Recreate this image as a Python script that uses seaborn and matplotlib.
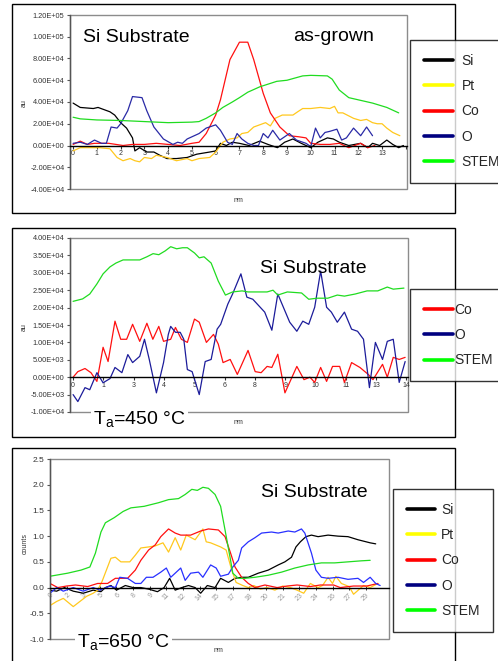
import numpy as np
import pandas as pd
import matplotlib
matplotlib.use('Agg')
import matplotlib.pyplot as plt
from matplotlib.patches import Rectangle
from matplotlib.ticker import FixedLocator, FuncFormatter, MultipleLocator
import seaborn as sns

sns.set_style('white')
plt.rcParams['font.family'] = ['Liberation Sans', 'DejaVu Sans']
plt.rcParams['mathtext.default'] = 'regular'

# ---------------- data: panel 1 (as-grown), values x1e4 ----------------
SCALE1 = 1e4
si1_x = [0, 0.3, 0.85, 1.05, 1.55, 1.75, 2.0, 2.25, 2.5, 2.6, 2.8, 3.1, 3.4, 3.65, 3.95, 4.35, 4.8, 5.2, 5.75, 6.0,
         6.2, 6.45, 6.7, 7.0, 7.4, 7.85, 8.2, 8.6, 8.9, 9.25, 9.6, 10.0, 10.3, 10.7, 10.95, 11.2, 11.6, 12.1, 12.4,
         12.6, 12.9, 13.2, 13.45, 13.7, 13.9]
si1_y = [3.9, 3.5, 3.4, 3.5, 3.1, 2.8, 2.1, 1.6, 0.7, -0.5, -0.2, -0.6, -0.6, -0.9, -1.2, -1.2, -1.1, -0.8, -0.6, -0.5,
         0.2, 0.0, 0.3, 0.2, 0.0, 0.4, 0.1, -0.2, 0.3, 0.6, 0.2, -0.2, 0.3, 0.7, 0.6, 0.3, 0.0, 0.2, -0.2,
         0.2, 0.0, 0.5, 0.1, -0.2, 0.0]
pt1_x = [0, 0.3, 0.7, 1.1, 1.55, 1.85, 2.1, 2.4, 2.6, 2.8, 3.0, 3.3, 3.5, 3.95, 4.35, 4.8, 5.0, 5.3, 5.75, 6.0, 6.3,
         6.6, 6.9, 7.1, 7.35, 7.6, 7.85, 8.1, 8.3, 8.5, 8.8, 9.0, 9.25, 9.45, 9.66, 10.0, 10.4, 10.8, 11.0, 11.15,
         11.35, 11.8, 12.1, 12.35, 12.6, 12.8, 13.0, 13.2, 13.45, 13.75]
pt1_y = [-0.5, -0.2, -0.2, -0.2, -0.3, -1.1, -1.4, -1.2, -1.4, -1.5, -1.1, -1.2, -0.9, -1.1, -1.4, -1.2, -1.4, -1.2,
         -1.1, -0.6, 0.3, 0.6, 0.7, 1.1, 1.2, 1.7, 1.9, 2.1, 1.8, 2.5, 2.8, 2.8, 2.8, 3.1, 3.4, 3.4, 3.5, 3.4, 3.6,
         3.0, 3.0, 2.5, 2.3, 2.4, 2.1, 2.0, 2.0, 1.6, 1.2, 0.9]
co1_x = [0, 0.3, 0.6, 0.9, 1.2, 1.5, 1.8, 2.1, 2.5, 3.0, 3.5, 4.0, 4.5, 5.0, 5.3, 5.6, 6.0, 6.2, 6.6, 7.0, 7.35, 7.6,
         8.0, 8.3, 8.7, 9.1, 9.5, 9.8, 10.0, 10.4, 10.8, 11.2, 11.6, 12.1, 12.4, 12.7]
co1_y = [0.1, 0.4, 0.1, 0.2, 0.2, 0.2, 0.1, 0.0, 0.1, 0.1, 0.2, 0.1, 0.0, 0.2, 0.3, 1.1, 2.8, 4.2, 7.9, 9.5, 9.5, 7.9,
         4.8, 3.0, 1.7, 0.9, 0.8, 0.7, 0.2, 0.1, 0.1, 0.2, -0.2, 0.2, -0.2, 0.0]
o1_x = [0, 0.3, 0.6, 0.9, 1.2, 1.4, 1.6, 1.85, 2.0, 2.3, 2.5, 2.9, 3.1, 3.4, 3.8, 4.2, 4.4, 4.6, 4.8, 5.0, 5.3, 5.6,
        6.0, 6.2, 6.5, 6.7, 6.9, 7.1, 7.35, 7.6, 7.8, 8.0, 8.2, 8.4, 8.7, 9.1, 9.4, 9.8, 10.0, 10.2, 10.4, 10.6,
        10.8, 11.1, 11.3, 11.5, 11.8, 12.1, 12.35, 12.6]
o1_y = [0.2, 0.3, 0.1, 0.5, 0.2, 0.2, 1.7, 1.6, 2.0, 3.2, 4.5, 4.4, 3.2, 1.7, 0.6, 0.1, 0.3, 0.2, 0.6, 0.8, 1.1, 1.6,
        1.9, 1.4, 0.3, 0.1, 1.1, 0.6, 0.2, 0.0, 0.0, 1.1, 0.7, 1.4, 0.5, 1.1, 0.5, 0.2, -0.1, 1.6, 0.7, 1.2,
        1.3, 1.5, 0.5, 0.7, 1.6, 0.9, 1.7, 0.9]
stem1_x = [0, 0.3, 1, 2, 3, 4, 5, 5.3, 5.6, 6.0, 6.3, 6.7, 7.0, 7.35, 7.86, 8.57, 9.0, 9.66, 10.0, 10.7, 10.9, 11.2,
           11.6, 12.0, 12.6, 13.2, 13.7]
stem1_y = [2.6, 2.45, 2.35, 2.3, 2.2, 2.1, 2.15, 2.2, 2.5, 3.0, 3.5, 4.0, 4.4, 4.9, 5.4, 5.9, 6.0, 6.4, 6.45, 6.4,
           6.1, 5.1, 4.4, 4.2, 3.9, 3.5, 3.0]

# ---------------- data: panel 2 (Ta = 450 C), values x1e3 ----------------
SCALE2 = 1e3
co2_x = [0, 0.2, 0.5, 0.75, 1.0, 1.26, 1.47, 1.76, 2.0, 2.25, 2.5, 2.8, 3.1, 3.35, 3.6, 3.8, 4.1, 4.3, 4.55, 4.8,
         5.1, 5.3, 5.6, 5.9, 6.1, 6.3, 6.6, 6.9, 7.35, 7.65, 7.9, 8.15, 8.35, 8.6, 8.9, 9.4, 9.7, 9.95, 10.15, 10.4,
         10.65, 10.9, 11.2, 11.4, 11.7, 12.05, 12.4, 12.6, 13.0, 13.2, 13.45, 13.7, 13.95]
co2_y = [0, 1.6, 2.5, 1.3, -1.2, 8.6, 4.5, 16.1, 10.9, 10.9, 15.2, 10.3, 15.5, 10.9, 14.6, 10.3, 10.9, 14.3, 10.9,
         10.0, 16.7, 15.8, 10.0, 12.3, 9.5, 4.2, 5.1, 0.8, 7.7, 1.6, 1.3, 3.1, 2.8, 6.6, -4.5, 3.1, -0.7, 0, -1.5, 2.8,
         -1.2, 3.1, 3.1, -1.5, 4.2, 2.8, 0.8, -0.7, 3.7, 0, 5.7, 5.1, 5.7]
o2_x = [0, 0.2, 0.5, 0.7, 1.0, 1.26, 1.55, 1.76, 2.05, 2.3, 2.5, 2.8, 3.0, 3.2, 3.5, 3.8, 4.0, 4.1, 4.3, 4.5, 4.65,
        4.8, 5.0, 5.3, 5.55, 5.8, 6.05, 6.2, 6.5, 6.7, 7.05, 7.3, 7.55, 8.05, 8.35, 8.6, 9.1, 9.4, 9.65, 9.9, 10.15,
        10.4, 10.65, 10.85, 11.1, 11.4, 11.7, 11.95, 12.2, 12.45, 12.7, 13.0, 13.2, 13.45, 13.7, 13.95]
o2_y = [-5.0, -7.0, -3.0, -3.6, 1.3, -1.6, -0.4, 2.8, 1.3, 6.5, 4.2, 6.0, 10.9, 5.1, -4.5, 4.2, 12.3, 14.6, 12.9,
        12.9, 10.9, 2.2, 1.6, -5.0, 4.5, 5.1, 13.8, 15.2, 21.0, 23.9, 29.7, 23.0, 22.4, 18.7, 13.5, 23.9, 15.8, 13.2,
        16.1, 15.2, 20.1, 30.5, 20.1, 18.7, 15.8, 18.7, 13.8, 13.2, 10.9, -3.0, 10.0, 5.1, 10.3, 10.9, -1.5, 4.5]
stem2_x = [0, 0.4, 0.7, 1.0, 1.26, 1.55, 1.8, 2.1, 2.5, 2.8, 3.1, 3.36, 3.6, 3.87, 4.1, 4.35, 4.6, 4.8, 5.1, 5.3,
           5.5, 5.8, 6.1, 6.4, 6.7, 7.1, 7.35, 7.7, 8.15, 8.4, 8.6, 9.0, 9.6, 9.9, 10.25, 10.7, 11.1, 11.4, 11.85,
           12.35, 12.8, 13.2, 13.45, 13.9]
stem2_y = [21.8, 22.5, 23.9, 26.8, 29.7, 31.7, 32.8, 33.7, 33.7, 33.7, 34.6, 35.5, 35.2, 36.3, 37.5, 36.9, 37.2,
           37.2, 35.7, 34.3, 34.6, 32.8, 27.6, 23.6, 24.5, 24.8, 24.5, 24.5, 24.5, 25.0, 23.6, 24.5, 24.2, 22.4,
           22.7, 22.7, 23.6, 23.3, 23.9, 24.8, 24.8, 25.9, 25.3, 25.6]

# ---------------- data: panel 3 (Ta = 650 C), counts ----------------
si3_x = [0, 0.6, 1.3, 2.1, 3.0, 3.9, 4.6, 5.0, 5.5, 6.0, 6.8, 7.5, 8.2, 8.9, 9.7, 10.3, 10.8, 11.3, 11.9, 12.5, 13.1,
         13.6, 14.2, 14.9, 15.4, 16.1, 16.7, 17.3, 17.9, 18.8, 19.7, 20.6, 21.2, 21.8, 22.2, 22.6, 23.1, 23.6, 24.2,
         25.1, 26.0, 26.9, 27.8, 28.9, 29.4]
si3_y = [-0.05, -0.07, 0.0, -0.07, -0.11, -0.05, -0.08, 0.0, 0.04, -0.05, 0.04, 0.0, 0.0, -0.03, -0.08, 0.0, 0.18,
         -0.05, 0.0, 0.04, 0.0, -0.11, 0.04, 0.0, 0.18, 0.10, 0.18, 0.20, 0.20, 0.28, 0.34, 0.44, 0.50, 0.59, 0.79,
         0.89, 0.99, 1.02, 0.99, 1.02, 1.0, 0.99, 0.93, 0.87, 0.85]
pt3_x = [0, 0.6, 1.2, 2.1, 2.7, 3.3, 3.9, 4.3, 4.7, 5.5, 5.9, 6.4, 7.2, 7.7, 8.2, 8.9, 9.5, 10.2, 10.7, 11.3, 11.8,
         12.3, 13.1, 13.8, 14.1, 14.5, 15.4, 15.9, 16.4, 16.8, 17.4, 17.9, 18.4, 19.0, 19.6, 20.3, 21.0, 21.7, 22.3,
         22.9, 23.5, 24.2, 24.6, 25.1, 25.5, 25.8, 26.3, 27.0, 27.4, 28.3, 28.9, 29.6]
pt3_y = [-0.35, -0.27, -0.21, -0.37, -0.27, -0.17, -0.11, -0.05, 0.12, 0.57, 0.59, 0.50, 0.50, 0.63, 0.77, 0.79,
         0.81, 0.87, 0.69, 0.97, 0.73, 1.02, 0.93, 1.14, 0.89, 0.87, 0.79, 0.73, 0.34, 0.10, 0.04, 0.0, 0.04, -0.03,
         0.0, -0.05, 0.03, 0.0, -0.05, -0.11, 0.08, 0.0, 0.04, 0.20, 0.08, 0.22, 0.08, 0.02, -0.13, 0.04, 0.0, 0.08]
co3_x = [0, 0.7, 1.5, 2.3, 3.4, 4.3, 5.2, 5.9, 7.0, 7.7, 8.2, 8.9, 9.5, 10.0, 10.7, 11.3, 11.8, 12.7, 13.6, 14.3,
         15.2, 15.8, 16.3, 16.7, 17.3, 17.9, 18.5, 19.4, 20.5, 21.4, 22.3, 23.5, 24.4, 25.6, 26.2, 27.4, 28.6, 29.6]
co3_y = [0.08, 0.0, 0.03, 0.05, 0.02, 0.08, 0.08, 0.18, 0.18, 0.34, 0.53, 0.73, 0.83, 0.99, 1.14, 1.06, 1.02, 1.02,
         1.10, 1.14, 1.12, 0.99, 0.67, 0.40, 0.20, 0.08, 0.0, 0.05, 0.0, 0.03, 0.05, 0.02, 0.05, 0.05, 0.0, 0.03,
         0.03, 0.08]
o3_x = [0, 0.6, 1.2, 2.1, 3.0, 3.9, 4.5, 5.4, 5.9, 6.3, 7.0, 7.7, 8.2, 8.7, 9.3, 10.0, 10.5, 10.9, 11.3, 11.8, 12.2,
        12.7, 13.4, 13.8, 14.5, 15.0, 15.4, 16.1, 16.5, 17.0, 17.3, 17.9, 18.5, 19.1, 20.0, 20.6, 21.5, 22.1, 22.7,
        23.0, 23.6, 24.0, 24.5, 25.1, 26.0, 26.9, 27.8, 28.3, 28.9, 29.4, 29.8]
o3_y = [-0.11, 0.0, -0.07, 0.0, -0.07, 0.0, -0.05, 0.03, 0.0, 0.20, 0.18, 0.08, 0.08, 0.20, 0.20, 0.30, 0.38, 0.20,
        0.28, 0.38, 0.14, 0.28, 0.30, 0.20, 0.44, 0.38, 0.22, 0.26, 0.40, 0.53, 0.77, 0.89, 0.97, 1.06, 1.08, 1.06,
        1.10, 1.08, 1.14, 1.06, 0.67, 0.34, 0.20, 0.18, 0.20, 0.16, 0.18, 0.10, 0.20, 0.08, 0.04]
stem3_x = [0, 1.6, 2.8, 3.6, 4.1, 4.6, 5.0, 5.8, 6.6, 7.3, 8.5, 9.8, 10.7, 11.6, 12.2, 12.8, 13.3, 13.8, 14.3, 14.9,
           15.4, 15.8, 16.3, 16.5, 17.0, 17.6, 18.5, 19.7, 20.9, 22.1, 23.3, 24.5, 25.7, 26.9, 28.1, 28.9]
stem3_y = [0.22, 0.28, 0.34, 0.40, 0.67, 1.08, 1.26, 1.36, 1.48, 1.55, 1.58, 1.65, 1.71, 1.73, 1.81, 1.91, 1.89,
           1.95, 1.93, 1.81, 1.58, 1.12, 0.53, 0.28, 0.18, 0.18, 0.20, 0.24, 0.30, 0.38, 0.44, 0.48, 0.48, 0.50,
           0.52, 0.53]

# tick labels
p1_yticks = [-4e4, -2e4, 0, 2e4, 4e4, 6e4, 8e4, 1e5, 1.2e5]
p1_xticks = list(range(0, 15))
p1_xlabels = [str(i) for i in range(0, 14)] + ['']
p2_yticks = [-1e4, -5e3, 0, 5e3, 1e4, 1.5e4, 2e4, 2.5e4, 3e4, 3.5e4, 4e4]
p2_xlabels = ['0', '1', '3', '4', '5', '6', '8', '9', '10', '11', '13', '14']
p3_yticks = [-1.0, -0.5, 0.0, 0.5, 1.0, 1.5, 2.0, 2.5]
p3_xlabels = ['0', '2', '3', '5', '6', '8', '9', '11', '12', '14', '15', '17', '18', '20', '21', '23', '24', '26',
              '27', '29']

# ---------------- styling ----------------
W, H = 498, 661
line_colors = {'Si': '#000000', 'Pt': '#FFC81E', 'Co': '#FF1010', 'O': '#2A2AA6', 'STEM': '#20DC20'}
legend_colors = {'Si': '#000000', 'Pt': '#FFFF00', 'Co': '#FF0000', 'O': '#000080', 'STEM': '#00FF00'}


def frac_rect(x0, y0, x1, y1):
    return [x0 / W, 1 - y1 / H, (x1 - x0) / W, (y1 - y0) / H]


def fxy(x, y):
    return x / W, 1 - y / H


def make_df(series, scale=1.0):
    frames = []
    for name, xs, ys in series:
        frames.append(pd.DataFrame({'nm': xs, 'value': np.array(ys) * scale, 'element': name}))
    return pd.concat(frames, ignore_index=True)


fig = plt.figure(figsize=(W / 100, H / 100), dpi=100)
fig.patch.set_facecolor('white')

# outer boxes
for (x0, y0, x1, y1) in [(12, 4, 455, 213), (12, 228, 455, 437), (12, 448, 455, 670)]:
    fig.add_artist(Rectangle(fxy(x0, y1), (x1 - x0) / W, (y1 - y0) / H, transform=fig.transFigure,
                             fill=False, ec='black', lw=1.0, zorder=0))


def style_axes(ax):
    ax.set_facecolor('white')
    ax.patch.set_edgecolor('#8c8c8c')
    ax.patch.set_linewidth(1.0)
    ax.spines['top'].set_visible(False)
    ax.spines['right'].set_visible(False)
    ax.spines['left'].set_color('#555555')
    ax.spines['left'].set_linewidth(1.0)
    ax.spines['bottom'].set_position(('data', 0))
    ax.spines['bottom'].set_color('black')
    ax.spines['bottom'].set_linewidth(1.0)
    ax.set_xlabel('')
    ax.set_ylabel('')
    ax.tick_params(axis='y', direction='out', length=2.5, width=0.8, labelsize=5.3, colors='#555555',
                   labelcolor='#333333', pad=1.5, left=True)
    ax.tick_params(axis='x', direction='out', length=2, width=0.8, labelsize=5, colors='#333333', pad=1.5,
                   bottom=True)


def add_legend(ax, names, anchor, textpad, hlen):
    handles = ax.get_lines()[:len(names)]
    leg = fig.legend(handles, names, loc='upper left', bbox_to_anchor=fxy(*anchor), fontsize=10,
                     frameon=True, fancybox=False, edgecolor='black', borderpad=1.0, handlelength=hlen,
                     handletextpad=textpad, labelspacing=0.81, borderaxespad=0)
    leg.get_frame().set_linewidth(1.0)
    for h, n in zip(leg.legend_handles, names):
        h.set_color(legend_colors[n])
        h.set_linewidth(2.6)
    leg.set_zorder(10)
    return leg


# ---------------- panel 1 ----------------
order1 = ['Si', 'Pt', 'Co', 'O', 'STEM']
df1 = make_df([('Si', si1_x, si1_y), ('Pt', pt1_x, pt1_y), ('Co', co1_x, co1_y), ('O', o1_x, o1_y),
               ('STEM', stem1_x, stem1_y)], SCALE1)
ax1 = fig.add_axes(frac_rect(70, 15, 407, 189))
sns.lineplot(data=df1, x='nm', y='value', hue='element', hue_order=order1, palette=line_colors,
             estimator=None, sort=False, lw=0.9, legend=False, ax=ax1)
style_axes(ax1)
ax1.set_xlim(-0.13, 14.05)
ax1.set_ylim(-4e4, 1.2e5)
ax1.yaxis.set_major_locator(FixedLocator(p1_yticks))
ax1.yaxis.set_major_formatter(FuncFormatter(lambda v, p: f'{v:.2E}'))
ax1.set_xticks(p1_xticks)
ax1.set_xticklabels(p1_xlabels)
add_legend(ax1, order1, (410, 40), 0.6, 2.1)

# ---------------- panel 2 ----------------
order2 = ['Co', 'O', 'STEM']
df2 = make_df([('Co', co2_x, co2_y), ('O', o2_x, o2_y), ('STEM', stem2_x, stem2_y)], SCALE2)
ax2 = fig.add_axes(frac_rect(70, 238, 408, 412))
sns.lineplot(data=df2, x='nm', y='value', hue='element', hue_order=order2,
             palette=dict(line_colors, O='#1C1C9A'),
             estimator=None, sort=False, lw=0.9, legend=False, ax=ax2)
style_axes(ax2)
ax2.set_xlim(-0.13, 14.07)
ax2.set_ylim(-1e4, 4e4)
ax2.yaxis.set_major_locator(FixedLocator(p2_yticks))
ax2.yaxis.set_major_formatter(FuncFormatter(lambda v, p: f'{v:.2E}'))
ax2.set_xticks(np.linspace(0, 14, len(p2_xlabels)))
ax2.set_xticklabels(p2_xlabels)
add_legend(ax2, order2, (410, 289), 0.1, 2.1)

# ---------------- panel 3 ----------------
order3 = ['Si', 'Pt', 'Co', 'O', 'STEM']
colors3 = dict(line_colors, O='#2830FF')
df3 = make_df([('Si', si3_x, si3_y), ('Pt', pt3_x, pt3_y), ('Co', co3_x, co3_y), ('O', o3_x, o3_y),
               ('STEM', stem3_x, stem3_y)])
ax3 = fig.add_axes(frac_rect(50, 459, 389, 639))
sns.lineplot(data=df3, x='nm', y='value', hue='element', hue_order=order3, palette=colors3,
             estimator=None, sort=False, lw=0.9, legend=False, ax=ax3)
style_axes(ax3)
ax3.set_xlim(0, 30.6)
ax3.set_ylim(-1.0, 2.5)
ax3.yaxis.set_major_locator(FixedLocator(p3_yticks))
ax3.yaxis.set_major_formatter(FuncFormatter(lambda v, p: f'{v:.1f}'))
ax3.tick_params(axis='y', labelsize=6)
ax3.set_xticks(np.arange(len(p3_xlabels)) * 1.5)
ax3.set_xticklabels(p3_xlabels, rotation=45, ha='right', rotation_mode='anchor', color='#9a9a9a')
ax3.xaxis.set_minor_locator(MultipleLocator(0.5))
ax3.tick_params(axis='x', which='both', direction='inout', length=3, width=0.7)
add_legend(ax3, order3, (393, 489), 0.45, 2.0)

# ---------------- texts ----------------
big = dict(fontsize=14, color='black')
fig.text(*fxy(83, 42), 'Si Substrate', va='baseline', ha='left', **big)
fig.text(*fxy(293, 41), 'as-grown', va='baseline', ha='left', **big)
fig.text(*fxy(260, 273), 'Si Substrate', va='baseline', ha='left', **big)
fig.text(*fxy(261, 497), 'Si Substrate', va='baseline', ha='left', **big)
fig.text(*fxy(93, 424), 'T$_{a}$=450 °C', va='baseline', ha='left', zorder=5,
         bbox=dict(facecolor='white', edgecolor='none', pad=1.5), **big)
fig.text(*fxy(77, 647), 'T$_{a}$=650 °C', va='baseline', ha='left', zorder=5,
         bbox=dict(facecolor='white', edgecolor='none', pad=1.5), **big)

small = dict(fontsize=5, color='#333333', ha='center', va='center')
fig.text(*fxy(238, 200), 'nm', **small)
fig.text(*fxy(238, 423), 'nm', **small)
fig.text(*fxy(218, 650), 'nm', **small)
fig.text(*fxy(24, 103), 'au', rotation=90, **small)
fig.text(*fxy(24, 327), 'au', rotation=90, **small)
fig.text(*fxy(25, 543), 'counts', rotation=90, **small)

fig.savefig('out.png', dpi=100, facecolor='white')
